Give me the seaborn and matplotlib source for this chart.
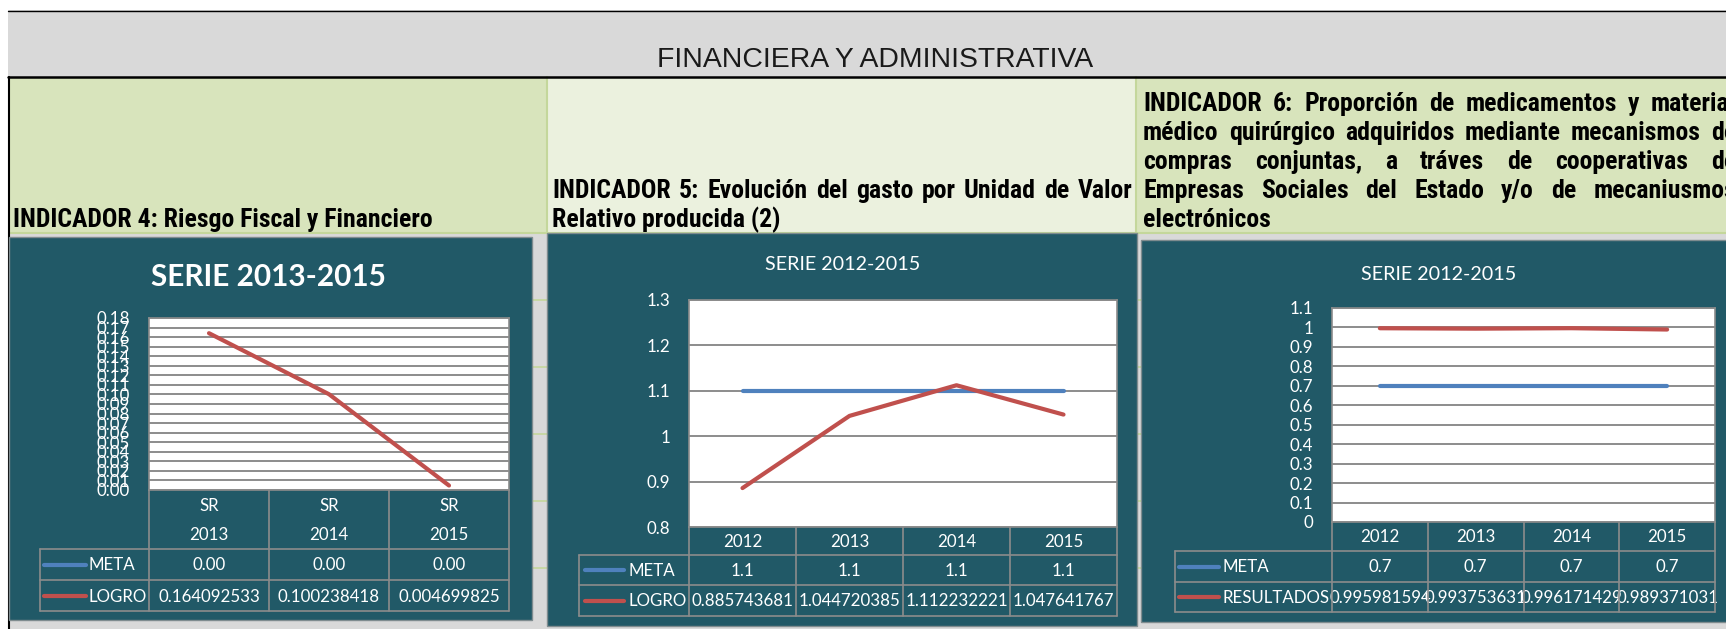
import matplotlib
matplotlib.use("Agg")
import matplotlib.pyplot as plt
from matplotlib import font_manager
from matplotlib.font_manager import FontProperties
from matplotlib.patches import Rectangle
from matplotlib.lines import Line2D
import seaborn as sns

# ---------------- data ----------------
main_title = "FINANCIERA Y ADMINISTRATIVA"
ind4_lines = ["INDICADOR 4: Riesgo Fiscal y Financiero"]
ind5_lines = ["INDICADOR  5: Evolución del gasto por Unidad de Valor",
              "Relativo producida (2)"]
ind6_lines = ["INDICADOR 6: Proporción de medicamentos y material",
              "médico quirúrgico adquiridos mediante mecanismos de",
              "compras conjuntas, a tráves de cooperativas de",
              "Empresas Sociales del Estado y/o de mecaniusmos",
              "electrónicos"]

p1_title = "SERIE 2013-2015"
p1_prefix = "SR"
p1_years = ["2013", "2014", "2015"]
p1_meta = [0.00, 0.00, 0.00]
p1_logro = [0.164092533, 0.100238418, 0.004699825]
p1_yticks = [0.00, 0.01, 0.02, 0.03, 0.04, 0.05, 0.06, 0.07, 0.08, 0.09,
             0.10, 0.11, 0.12, 0.13, 0.14, 0.15, 0.16, 0.17, 0.18]

p2_title = "SERIE 2012-2015"
p2_years = ["2012", "2013", "2014", "2015"]
p2_meta = [1.1, 1.1, 1.1, 1.1]
p2_logro = [0.885743681, 1.044720385, 1.112232221, 1.047641767]
p2_yticks = [0.8, 0.9, 1.0, 1.1, 1.2, 1.3]

p3_title = "SERIE 2012-2015"
p3_years = ["2012", "2013", "2014", "2015"]
p3_meta = [0.7, 0.7, 0.7, 0.7]
p3_result = [0.995981594, 0.993753631, 0.996171429, 0.989371031]
p3_yticks = [0.0, 0.1, 0.2, 0.3, 0.4, 0.5, 0.6, 0.7, 0.8, 0.9, 1.0, 1.1]

# ---------------- style ----------------
sns.set_theme(style="white")
names = {f.name for f in font_manager.fontManager.ttflist}
TOP_FONT = ["Liberation Sans", "DejaVu Sans"]
CH_FONT = ["Lato", "DejaVu Sans"] if "Lato" in names else ["DejaVu Sans"]
plt.rcParams["font.family"] = CH_FONT


def _wt(w):
    if isinstance(w, str):
        return {"bold": 700, "semibold": 600, "demibold": 600, "heavy": 800,
                "black": 900, "extra bold": 800}.get(w, 400)
    return w


def find_condensed_bold():
    prefs = ["Liberation Sans Narrow", "Arial Narrow", "Roboto Condensed",
             "Noto Sans", "Open Sans", "DejaVu Sans"]
    cands = []
    for f in font_manager.fontManager.ttflist:
        cond = (f.stretch in ("condensed", "semi-condensed", "extra-condensed")
                or "Narrow" in f.name or "Condensed" in f.name
                or "Condensed" in f.fname or "Narrow" in f.fname)
        if not cond or f.style != "normal":
            continue
        if not (650 <= _wt(f.weight) <= 750):
            continue
        for rank, p in enumerate(prefs):
            if f.name.startswith(p):
                cands.append((rank, f.fname))
                break
    if cands:
        cands.sort()
        return cands[0][1]
    return None


_cond = find_condensed_bold()
if _cond:
    HDR_PROPS = dict(fontproperties=FontProperties(fname=_cond))
else:
    HDR_PROPS = dict(family=["Liberation Sans", "DejaVu Sans"], weight="bold")

TEAL = "#215967"
BLUE = "#4f81bd"
RED = "#c0504d"
GRID = "#8c8c8c"
GREEN = "#d8e4bc"
GREEN_L = "#ebf1de"
GREEN_LINE = "#c4d79b"
GRAY = "#d9d9d9"

W, H = 1726, 629
fig = plt.figure(figsize=(W / 100, H / 100), dpi=100)
renderer = fig.canvas.get_renderer()


def fx(x):
    return x / W


def fy(y):
    return 1 - y / H


def rect(x0, y0, x1, y1, **kw):
    fig.add_artist(Rectangle((fx(x0), fy(y1)), (x1 - x0) / W, (y1 - y0) / H,
                             transform=fig.transFigure, **kw))


def hline(x0, x1, y, **kw):
    fig.add_artist(Line2D([fx(x0), fx(x1)], [fy(y), fy(y)], transform=fig.transFigure, **kw))


def vline(x, y0, y1, **kw):
    fig.add_artist(Line2D([fx(x), fx(x)], [fy(y0), fy(y1)], transform=fig.transFigure, **kw))


def put(x, y, s, size=None, **kw):
    t = fig.text(fx(x), fy(y), s, **kw)
    if size is not None:
        t.set_fontsize(size)
    return t


def text_width(s, size, **kw):
    t = put(0, H, s, size=size, **kw)
    w = t.get_window_extent(renderer).width
    t.remove()
    return w


def fit_size(s, width, **kw):
    return 20 * width / text_width(s, 20, **kw)


def justify(x0, x1, y, line, size, **kw):
    words = line.split()
    widths = [text_width(w_, size, **kw) for w_ in words]
    gap = (x1 - x0 - sum(widths)) / (len(words) - 1)
    x = x0
    for w_, wd in zip(words, widths):
        put(x, y, w_, size=size, ha="left", va="baseline", **kw)
        x += wd + gap


# ---------------- background / sheet ----------------
rect(8, 10, W + 2, 77, facecolor=GRAY, edgecolor="none", zorder=-20)
rect(9, 77, 547, 233, facecolor=GREEN, edgecolor="none", zorder=-20)
rect(547, 77, 1136, 233, facecolor=GREEN_L, edgecolor="none", zorder=-20)
rect(1136, 77, W + 2, 233, facecolor=GREEN, edgecolor="none", zorder=-20)
rect(9, 233, W + 2, H + 2, facecolor=GRAY, edgecolor="none", zorder=-20)
for yy in [300, 367, 434, 501, 568]:
    hline(9, W + 2, yy, color=GREEN_LINE, lw=1.2, zorder=-15)
vline(547, 77, 233, color=GREEN_LINE, lw=1.5, zorder=-15)
vline(1136, 77, 233, color=GREEN_LINE, lw=1.5, zorder=-15)
hline(9, W + 2, 233, color=GREEN_LINE, lw=1.5, zorder=-15)
hline(8, W + 2, 10.5, color="black", lw=1.0, zorder=-12)
hline(8, W + 2, 77, color="black", lw=1.8, zorder=-12)
vline(8.5, 77, H + 2, color="black", lw=1.5, zorder=-12)

# panels
rect(9, 237, 532, 620, facecolor=TEAL, edgecolor="#7f8c8f", lw=1, zorder=-10)
rect(547, 233, 1137, 626, facecolor=TEAL, edgecolor="#7f8c8f", lw=1, zorder=-10)
rect(1141, 240, W + 5, 622, facecolor=TEAL, edgecolor="#7f8c8f", lw=1, zorder=-10)

# ---------------- header texts ----------------
fs_top = fit_size(main_title, 436, family=TOP_FONT)
put(875, 60, main_title, size=fs_top, family=TOP_FONT, color="#1a1a1a",
    ha="center", va="center")

fs_hdr = fit_size(ind4_lines[0], 419, **HDR_PROPS)
hk = dict(color="black", **HDR_PROPS)
put(13, 227, ind4_lines[0], size=fs_hdr, ha="left", va="baseline", **hk)

justify(552, 1132, 198, ind5_lines[0], fs_hdr, **hk)
put(552, 227, ind5_lines[1], size=fs_hdr, ha="left", va="baseline", **hk)

base6 = [111, 140, 169, 198, 227]
for i, (ln, yb) in enumerate(zip(ind6_lines, base6)):
    if i < len(ind6_lines) - 1:
        justify(1143, 1736, yb, ln, fs_hdr, **hk)
    else:
        put(1143, yb, ln, size=fs_hdr, ha="left", va="baseline", **hk)

# ---------------- charts ----------------
FS = fit_size("0.885743681", 102, family=CH_FONT)
FS_T = fit_size(p2_title, 155, family=CH_FONT)
FS_T1 = fit_size(p1_title, 235, family=CH_FONT, weight="bold")


def fmt_g(v):
    return f"{round(v, 6):g}"


def chart(box, header_rows, series, ylim, yticks, ylab_fmt, tbl):
    x0, y0, x1, y1 = box
    ax = fig.add_axes([fx(x0), fy(y1), (x1 - x0) / W, (y1 - y0) / H])
    ax.set_facecolor("white")
    n = len(header_rows[0])
    xs = list(range(n))
    for name, vals, color, fmt, show in series:
        if show:
            sns.lineplot(x=xs, y=vals, ax=ax, color=color, linewidth=3.0,
                         solid_capstyle="round", legend=False, zorder=3)
    ax.set_xlim(-0.5, n - 0.5)
    ax.set_ylim(*ylim)
    ax.set_yticks(yticks)
    ax.set_yticklabels([ylab_fmt(v) for v in yticks], fontsize=FS, color="white",
                       family=CH_FONT)
    ax.set_xticks([])
    ax.tick_params(axis="y", length=0, pad=19 * 0.72, left=False)
    ax.yaxis.grid(True, color=GRID, lw=1.4)
    ax.xaxis.grid(False)
    ax.set_axisbelow(True)
    for s in ax.spines.values():
        s.set_color(GRID)
        s.set_linewidth(1.2)
    ax.set_xlabel("")
    ax.set_ylabel("")

    hdr_bot, row_bots, leg_left, key0, key1, lab_x = tbl
    edges = [x0 + (x1 - x0) * i / n for i in range(n + 1)]
    lk = dict(color=GRID, lw=1.2, zorder=5)
    hline(leg_left, x1, hdr_bot, **lk)
    for rb in row_bots:
        hline(leg_left, x1, rb, **lk)
    for e in edges:
        vline(e, y1, row_bots[-1], **lk)
    vline(leg_left, hdr_bot, row_bots[-1], **lk)

    nh = len(header_rows)
    for j, row in enumerate(header_rows):
        yc = y1 + (hdr_bot - y1) * (j + 0.5) / nh + 1
        for i, lab in enumerate(row):
            put((edges[i] + edges[i + 1]) / 2, yc, lab, size=FS, color="white",
                ha="center", va="center", family=CH_FONT)
    tops = [hdr_bot] + row_bots[:-1]
    for (name, vals, color, fmt, show), rt, rb in zip(series, tops, row_bots):
        yc = (rt + rb) / 2
        hline(key0, key1, yc, color=color, lw=3.0, solid_capstyle="round", zorder=6)
        put(lab_x, yc + 1, name, size=FS, color="white", ha="left", va="center",
            family=CH_FONT)
        for i, v in enumerate(vals):
            put((edges[i] + edges[i + 1]) / 2, yc + 1, fmt(v), size=FS, color="white",
                ha="center", va="center", family=CH_FONT)
    return ax


# Panel 1
put(268, 277, p1_title, size=FS_T1, weight="bold", color="white",
    ha="center", va="center", family=CH_FONT)
chart((149, 318, 509, 490),
      [[p1_prefix] * len(p1_years), p1_years],
      [("META", p1_meta, BLUE, lambda v: f"{v:.2f}", False),
       ("LOGRO", p1_logro, RED, lambda v: repr(v), True)],
      (0, 0.18), p1_yticks, lambda v: f"{v:.2f}",
      (549, [580, 611], 40, 44, 86, 88))

# Panel 2
put(843, 265, p2_title, size=FS_T, color="white", ha="center", va="center",
    family=CH_FONT)
chart((689, 300, 1117, 527),
      [p2_years],
      [("META", p2_meta, BLUE, fmt_g, True),
       ("LOGRO", p2_logro, RED, lambda v: repr(v), True)],
      (0.8, 1.3), p2_yticks, fmt_g,
      (555, [585, 616], 579, 585, 624, 628))

# Panel 3
put(1439, 274, p3_title, size=FS_T, color="white", ha="center", va="center",
    family=CH_FONT)
chart((1332, 308, 1715, 522),
      [p3_years],
      [("META", p3_meta, BLUE, fmt_g, True),
       ("RESULTADOS", p3_result, RED, lambda v: repr(v), True)],
      (0.0, 1.1), p3_yticks, fmt_g,
      (551, [582, 612], 1175, 1179, 1219, 1222))

fig.savefig("out.png", dpi=100)
